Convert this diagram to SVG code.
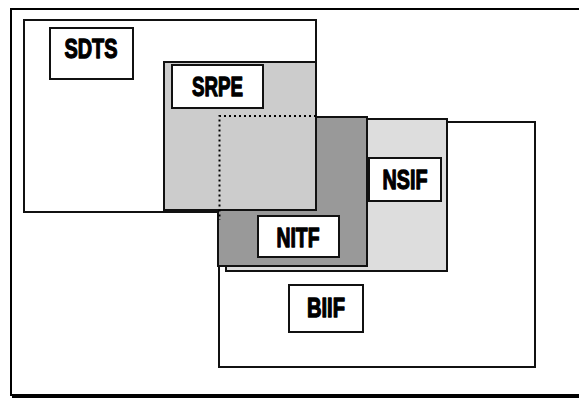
<svg xmlns="http://www.w3.org/2000/svg" width="579" height="398" viewBox="0 0 579 398">
  <style>
    .area { stroke: #111; stroke-width: 2; }
    .tag { fill: #fff; stroke: #111; stroke-width: 2; }
    .lbl { font-family: "Liberation Sans Narrow", "Liberation Sans", Arial, sans-serif; font-weight: bold; font-size: 27px; fill: #000; stroke: #000; stroke-width: 1.3; stroke-linejoin: round; text-anchor: middle; }
    .frame { stroke: #000; fill: none; }
  </style>
  <rect width="579" height="398" fill="#fff"/>

  <!-- page frame -->
  <g id="frame">
    <line class="frame" x1="11" y1="9" x2="579" y2="9" stroke-width="2"/>
    <line class="frame" x1="11" y1="8" x2="11" y2="396" stroke-width="2"/>
    <line class="frame" x1="12" y1="396" x2="579" y2="396" stroke-width="4"/>
  </g>

  <g id="SDTS">
    <rect class="area" x="24" y="20" width="292" height="192" fill="#fff"/>
    <rect class="tag" x="50" y="28" width="83" height="51"/>
    <text class="lbl" x="91" y="58" textLength="53" lengthAdjust="spacingAndGlyphs">SDTS</text>
  </g>

  <g id="BIIF">
    <rect class="area" x="219" y="122" width="316" height="245" fill="#fff"/>
    <rect class="tag" x="289" y="285" width="74" height="47"/>
    <text class="lbl" x="326" y="317" textLength="38" lengthAdjust="spacingAndGlyphs">BIIF</text>
  </g>

  <g id="NSIF">
    <rect class="area" x="226" y="119" width="221" height="152" fill="#ddd"/>
    <rect class="tag" x="369" y="158" width="72" height="43"/>
    <text class="lbl" x="405" y="189" textLength="45" lengthAdjust="spacingAndGlyphs">NSIF</text>
  </g>

  <g id="NITF">
    <rect class="area" x="218" y="117" width="149" height="149" fill="#999"/>
    <rect class="tag" x="258" y="216" width="81" height="41"/>
    <text class="lbl" x="298" y="247" textLength="43" lengthAdjust="spacingAndGlyphs">NITF</text>
  </g>

  <g id="SRPE">
    <rect class="area" x="164" y="62" width="152" height="148" fill="#ccc"/>
    <rect class="tag" x="172" y="65" width="91" height="43"/>
    <text class="lbl" x="217.5" y="96" textLength="51" lengthAdjust="spacingAndGlyphs">SRPE</text>
  </g>

  <!-- hidden outline of NITF beneath SRPE -->
  <g id="connectors">
    <path d="M316 116 H219.5 V220" fill="none" stroke="#000" stroke-width="2" stroke-dasharray="2 3"/>
  </g>
</svg>
